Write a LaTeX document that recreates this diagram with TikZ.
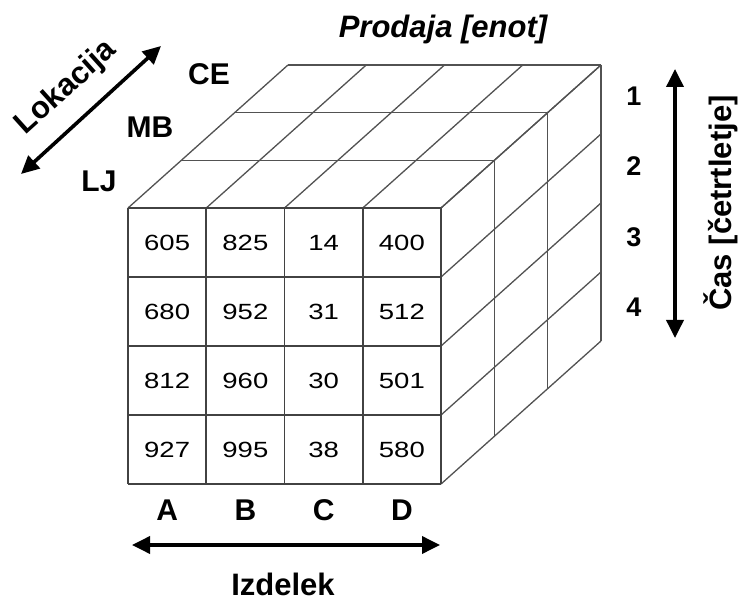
\documentclass[tikz,border=0pt]{standalone}
\usepackage{fontspec}
\setmainfont{Liberation Sans}
\newfontfamily\cellfont[FakeStretch=1.25]{Liberation Sans}
\usetikzlibrary{arrows.meta}
\begin{document}
\begin{tikzpicture}[x=1pt,y=-1pt,
  cubeline/.style={draw=black!68, line width=1.3pt},
  frontline/.style={draw=black!74, line width=1.6pt},
  axisarrow/.style={line width=3.6pt,
    {Triangle[length=18pt,width=17pt]}-{Triangle[length=18pt,width=17pt]}},
  axislabel/.style={font=\fontsize{31}{36}\selectfont\bfseries, inner sep=0pt},
  titlelabel/.style={font=\fontsize{31}{36}\selectfont\bfseries\itshape, inner sep=0pt, anchor=base},
  celltext/.style={font=\cellfont\fontsize{22}{26}\selectfont, inner sep=0pt},
  ticklabel/.style={font=\fontsize{30}{36}\selectfont\bfseries, inner sep=0pt, anchor=base},
  quarterlabel/.style={font=\fontsize{27}{32}\selectfont\bfseries, inner sep=0pt, anchor=base}]

\useasboundingbox (0,0) rectangle (744,601);

% cube geometry: front-top-left corner, cell size, depth step per layer
\def\cubeX{128} \def\cubeY{208} \def\cellW{78.25} \def\cellH{69}
\def\depX{53.33} \def\depY{-47.67}

% top face
\foreach \k in {0,...,3}
  \draw[cubeline] ({\cubeX+\k*\depX},{\cubeY+\k*\depY}) -- ++({4*\cellW},0);
\foreach \i in {0,...,4}
  \draw[cubeline] ({\cubeX+\i*\cellW},\cubeY) -- ++({3*\depX},{3*\depY});

% right face
\foreach \k in {0,...,3}
  \draw[cubeline] ({\cubeX+4*\cellW+\k*\depX},{\cubeY+\k*\depY}) -- ++(0,{4*\cellH});
\foreach \j in {0,...,4}
  \draw[cubeline] ({\cubeX+4*\cellW},{\cubeY+\j*\cellH}) -- ++({3*\depX},{3*\depY});

% front face
\foreach \i in {0,...,4}
  \draw[frontline] ({\cubeX+\i*\cellW},\cubeY) -- ++(0,{4*\cellH});
\foreach \j in {0,...,4}
  \draw[frontline] (\cubeX,{\cubeY+\j*\cellH}) -- ++({4*\cellW},0);

% sales values
\foreach \v [count=\n from 0] in {605,825,14,400,680,952,31,512,812,960,30,501,927,995,38,580}{
  \pgfmathtruncatemacro\col{mod(\n,4)}
  \pgfmathtruncatemacro\row{div(\n,4)}
  \node[celltext] (v\row\col) at ({\cubeX+(\col+0.5)*\cellW},{\cubeY+(\row+0.5)*\cellH}) {\v};
}

% products
\foreach \t [count=\n from 0] in {A,B,C,D}
  \node[ticklabel] (prod\t) at ({\cubeX+(\n+0.5)*\cellW},520) {\t};

% locations
\node[ticklabel] (locCE) at (209,85) {CE};
\node[ticklabel] (locMB) at (150,138) {MB};
\node[ticklabel] (locLJ) at (99,192) {LJ};

% quarters
\foreach \q/\yb in {1/106,2/176,3/247,4/317}
  \node[quarterlabel] (q\q) at (634,\yb) {\q};

% axis titles
\node[titlelabel] (title) at (443,38) {Prodaja [enot]};
\node[axislabel, anchor=base] (izdelek) at (283,595) {Izdelek};
\node[axislabel, rotate=42] (lokacija) at (66,88) {Lokacija};
\node[axislabel, rotate=90] (cas) at (721,203) {Čas [četrtletje]};

% axis arrows
\coordinate (izL) at (132,545);
\coordinate (izR) at (440,545);
\coordinate (caT) at (675,69);
\coordinate (caB) at (675,338);
\coordinate (loB) at (21,174);
\coordinate (loT) at (161,46);
\draw[axisarrow] (izL) -- (izR);
\draw[axisarrow] (caT) -- (caB);
\draw[axisarrow] (loB) -- (loT);
\end{tikzpicture}
\end{document}
